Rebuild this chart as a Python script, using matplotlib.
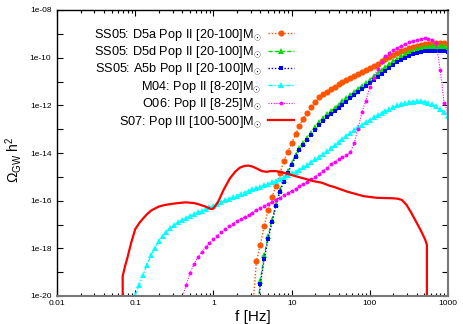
import matplotlib
matplotlib.use('Agg')
import matplotlib.pyplot as plt
import numpy as np
from matplotlib.ticker import FixedLocator, FixedFormatter, NullLocator, LogLocator, NullFormatter

plt.rcParams['font.family'] = ['Liberation Sans', 'DejaVu Sans']
plt.rcParams['mathtext.fontset'] = 'custom'
plt.rcParams['mathtext.rm'] = 'Liberation Sans'
plt.rcParams['mathtext.it'] = 'Liberation Sans:italic'
plt.rcParams['mathtext.bf'] = 'Liberation Sans:bold'

# shared frequency grid, log10(f / Hz)
LOG_F = [-1.00, -0.95, -0.90, -0.85, -0.80, -0.75, -0.70, -0.65, -0.60, -0.55,
         -0.50, -0.45, -0.40, -0.35, -0.30, -0.25, -0.20, -0.15, -0.10, -0.05,
         0.00, 0.05, 0.10, 0.15, 0.20, 0.25, 0.30, 0.35, 0.40, 0.45,
         0.50, 0.55, 0.60, 0.65, 0.70, 0.75, 0.80, 0.85, 0.90, 0.95,
         1.00, 1.05, 1.10, 1.15, 1.20, 1.25, 1.30, 1.35, 1.40, 1.45,
         1.50, 1.55, 1.60, 1.65, 1.70, 1.75, 1.80, 1.85, 1.90, 1.95,
         2.00, 2.05, 2.10, 2.15, 2.20, 2.25, 2.30, 2.35, 2.40, 2.45,
         2.50, 2.55, 2.60, 2.65, 2.70, 2.75, 2.80, 2.85, 2.90, 2.95, 3.00]

# log10(Omega h^2); each series ends at the last grid frequency
SS05_D5A = [-20.6, -18.55, -17.85, -17.05, -16.4, -15.85, -15.38, -14.85, -14.35, -13.95,
            -13.6, -13.22, -12.86, -12.57, -12.32, -12.07, -11.85, -11.67, -11.52, -11.42,
            -11.33, -11.23, -11.12, -11.03, -10.95, -10.86, -10.78, -10.69, -10.6, -10.52,
            -10.43, -10.34, -10.25, -10.16, -10.07, -9.98, -9.9, -9.82, -9.74, -9.66,
            -9.6, -9.55, -9.5, -9.46, -9.43, -9.41, -9.39, -9.38, -9.38, -9.39, -9.41]

SS05_D5D = [-21.3, -19.35, -18.3, -17.48, -16.8, -16.13, -15.55, -15.12, -14.77,
            -14.42, -14.09, -13.8, -13.58, -13.36, -13.14, -12.93, -12.72, -12.53, -12.38,
            -12.25, -12.11, -11.97, -11.83, -11.7, -11.57, -11.44, -11.31, -11.18, -11.05,
            -10.92, -10.79, -10.66, -10.53, -10.4, -10.28, -10.16, -10.05, -9.95, -9.86,
            -9.78, -9.71, -9.65, -9.61, -9.57, -9.55, -9.53, -9.52, -9.52, -9.53, -9.55]

SS05_A5B = [-21.5, -19.5, -18.45, -17.6, -16.9, -16.22, -15.62, -15.2, -14.85,
            -14.5, -14.17, -13.88, -13.67, -13.46, -13.24, -13.03, -12.82, -12.64, -12.5,
            -12.38, -12.24, -12.1, -11.97, -11.84, -11.71, -11.58, -11.45, -11.32, -11.19,
            -11.06, -10.93, -10.8, -10.67, -10.54, -10.42, -10.3, -10.19, -10.09, -10.0,
            -9.92, -9.86, -9.81, -9.77, -9.74, -9.72, -9.71, -9.71, -9.72, -9.74, -9.77]

M04 = [-19.95, -19.55, -19.12, -18.70, -18.30, -17.97, -17.70, -17.47, -17.30, -17.14,
       -17.02, -16.91, -16.81, -16.72, -16.64, -16.56, -16.49, -16.42, -16.35, -16.28,
       -16.21, -16.14, -16.07, -15.99, -15.92, -15.85, -15.79, -15.72, -15.66, -15.59,
       -15.53, -15.47, -15.41, -15.35, -15.29, -15.23, -15.16, -15.10, -15.02, -14.94,
       -14.86, -14.78, -14.70, -14.60, -14.49, -14.38, -14.27, -14.16, -14.04, -13.92,
       -13.80, -13.67, -13.54, -13.41, -13.28, -13.16, -13.04, -12.93, -12.82, -12.71,
       -12.61, -12.51, -12.41, -12.32, -12.23, -12.15, -12.07, -12.00, -11.95, -11.91,
       -11.87, -11.84, -11.83, -11.83, -11.85, -11.89, -11.95, -12.04, -12.15, -12.29, -12.45]

O06 = [-20.1, -19.55, -19.05, -18.67, -18.38, -18.15, -17.95, -17.78,
       -17.62, -17.47, -17.33, -17.2, -17.07, -16.96, -16.86, -16.77, -16.68, -16.59,
       -16.5, -16.41, -16.32, -16.23, -16.14, -16.05, -15.96, -15.87, -15.78, -15.69,
       -15.6, -15.5, -15.4, -15.3, -15.2, -15.1, -15.0, -14.88, -14.76, -14.62,
       -14.48, -14.36, -14.26, -14.18, -14.1, -13.97, -13.6, -12.98, -12.27, -11.8,
       -11.25, -10.84, -10.47, -10.18, -9.95, -9.8, -9.68, -9.58, -9.5, -9.43,
       -9.36, -9.3, -9.25, -9.21, -9.19, -9.2, -9.26, -9.4, -10.5, -11.9, -12.3]

# S07 Pop III: (log10 f, log10 Omega) samples along the solid curve
S07_LOGF = [-1.16, -1.16, -1.13, -1.10, -1.05, -1.00, -0.95, -0.90, -0.85, -0.79,
            -0.70, -0.62, -0.50, -0.36, -0.25, -0.19, -0.10, -0.03, 0.00, 0.06,
            0.13, 0.21, 0.28, 0.34, 0.40, 0.45, 0.50, 0.56, 0.62, 0.68,
            0.73, 0.80, 0.89, 1.07, 1.28, 1.39, 1.49, 1.53, 1.71, 1.92,
            2.09, 2.30, 2.36, 2.41, 2.47, 2.52, 2.58, 2.66, 2.71, 2.73, 2.73]
S07_LOGO = [-21.0, -19.16, -18.75, -18.4, -17.75, -17.2, -16.95, -16.75, -16.57, -16.4,
            -16.25, -16.18, -16.12, -16.07, -16.1, -16.15, -16.25, -16.35, -16.33, -16.05,
            -15.55, -15.07, -14.78, -14.61, -14.54, -14.53, -14.57, -14.66, -14.76, -14.79,
            -14.76, -14.76, -14.82, -14.99, -15.18, -15.25, -15.38, -15.41, -15.62, -15.81,
            -15.88, -15.90, -15.92, -15.97, -16.18, -16.45, -16.81, -17.30, -17.65, -17.86, -21.0]

LABELS = ['SS05: D5a Pop II [20-100]M$_{\\odot}$',
          'SS05: D5d Pop II [20-100]M$_{\\odot}$',
          'SS05: A5b Pop II [20-100]M$_{\\odot}$',
          'M04: Pop II [8-20]M$_{\\odot}$',
          'O06: Pop II [8-25]M$_{\\odot}$',
          'S07: Pop III [100-500]M$_{\\odot}$']

X_TICKS = [0.01, 0.1, 1, 10, 100, 1000]
X_TICK_LABELS = ['0.01', '0.1', '1', '10', '100', '1000']
Y_TICK_EXP = [-20, -19, -18, -17, -16, -15, -14, -13, -12, -11, -10, -9, -8]
Y_TICK_LABELS = ['1e-20', '', '1e-18', '', '1e-16', '', '1e-14', '', '1e-12', '', '1e-10', '', '1e-08']


def series_xy(vals):
    lf = LOG_F[len(LOG_F) - len(vals):]
    return 10.0 ** np.array(lf), 10.0 ** np.array(vals)


fig = plt.figure(figsize=(4.63, 3.24), dpi=100)
ax = fig.add_axes([57 / 463, 28 / 324, 391 / 463, 286 / 324])
ax.set_xscale('log')
ax.set_yscale('log')

dot = (0, (1, 1.3))
x, y = series_xy(SS05_D5A)
ax.plot(x, y, color='#ff5500', ls=dot, lw=1.0, marker='o', ms=4.4, mew=0, label=LABELS[0])
x, y = series_xy(SS05_D5D)
ax.plot(x, y, color='#00dd00', ls=(0, (3, 1.5)), lw=1.0, marker='^', ms=4.2, mew=0, label=LABELS[1])
x, y = series_xy(SS05_A5B)
ax.plot(x, y, color='#0000ff', ls=dot, lw=1.0, marker='s', ms=3.3, mew=0, label=LABELS[2])
x, y = series_xy(M04)
ax.plot(x, y, color='#00ffff', ls=(0, (3, 1.2, 1, 1.2)), lw=1.0, marker='^', ms=4.4, mew=0, label=LABELS[3])
x, y = series_xy(O06)
ax.plot(x, y, color='#ff00ff', ls=dot, lw=0.8, marker='o', ms=2.8, mew=0, label=LABELS[4])
ax.plot(10.0 ** np.array(S07_LOGF), 10.0 ** np.array(S07_LOGO), color='#ff0000', lw=1.6,
        label=LABELS[5])

ax.set_xlim(0.01, 1000)
ax.set_ylim(1e-20, 1e-8)

ax.xaxis.set_major_locator(FixedLocator(X_TICKS))
ax.xaxis.set_major_formatter(FixedFormatter(X_TICK_LABELS))
ax.xaxis.set_minor_locator(LogLocator(base=10, subs=np.arange(2, 10), numticks=20))
ax.xaxis.set_minor_formatter(NullFormatter())
ax.yaxis.set_major_locator(FixedLocator([10.0 ** e for e in Y_TICK_EXP]))
ax.yaxis.set_major_formatter(FixedFormatter(Y_TICK_LABELS))
ax.yaxis.set_minor_locator(NullLocator())

ax.tick_params(which='both', direction='in', top=True, right=True, width=0.8, labelsize=6)
ax.tick_params(which='major', length=4.5)
ax.tick_params(which='minor', length=2.5)
ax.tick_params(axis='x', pad=3)
ax.tick_params(axis='y', pad=4)
for name, s in ax.spines.items():
    s.set_linewidth(1.0)
for name in ('bottom', 'right'):
    ax.spines[name].set_color('#777777')
    ax.spines[name].set_linewidth(1.5)

ax.set_xlabel('f [Hz]', fontsize=11)
ax.xaxis.set_label_coords(0.5, -0.05)
ax.set_ylabel(r'$\mathrm{\Omega_{GW}\ h^2}$', fontsize=10)
ax.yaxis.set_label_coords(-0.11, 0.475)
ax.yaxis.label.set_va('center')

ax.legend(loc='upper right', bbox_to_anchor=(0.605, 0.942), frameon=False, markerfirst=False,
          numpoints=1, fontsize=9.2, handlelength=2.0, handletextpad=0.5, labelspacing=0.11,
          borderpad=0, borderaxespad=0)

fig.savefig('out.png', dpi=100)
